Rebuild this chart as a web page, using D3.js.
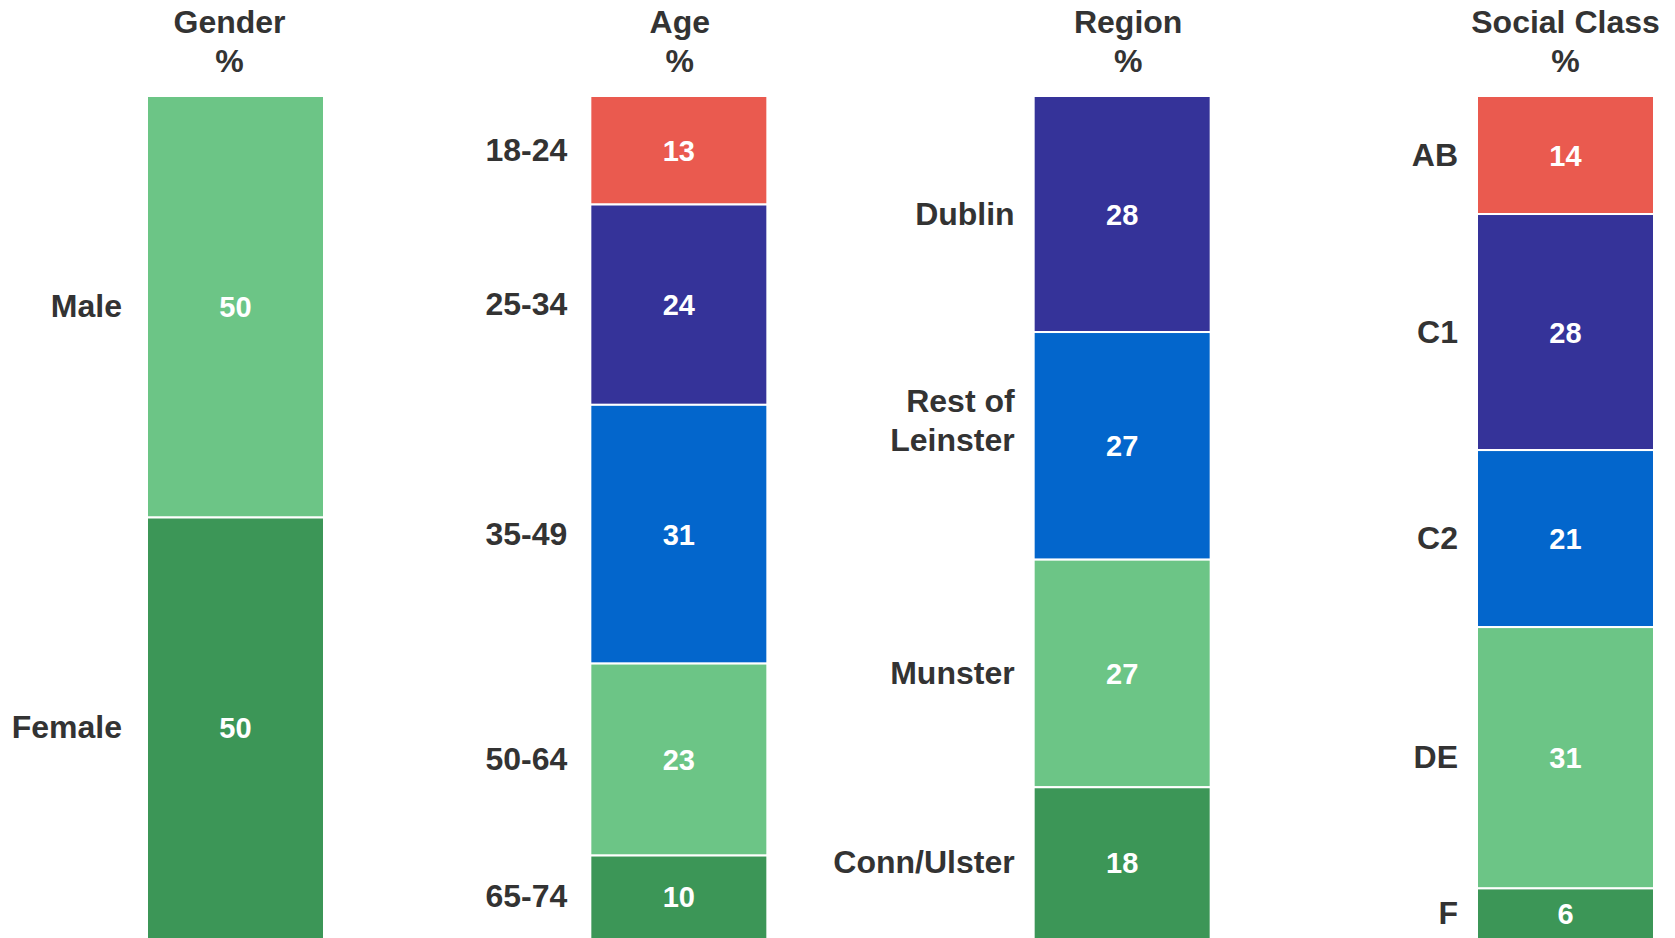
<!DOCTYPE html>
<html lang="en">
<head>
  <meta charset="UTF-8" />
  <title>Sample profile – stacked bars</title>
  <script src="https://d3js.org/d3.v7.min.js"></script>
  <style>
    body {
      margin: 0;
      background: #ffffff;
      font-family: "Liberation Sans", Arial, sans-serif;
      overflow: hidden;
    }
    svg { display: block; }
    .head { font-size: 32px; font-weight: bold; fill: #333333; }
    .cat { font-size: 32px; font-weight: bold; fill: #333333; }
    .val { font-size: 29px; font-weight: bold; fill: #ffffff; }
    .seg { stroke: #ffffff; stroke-width: 2; }
  </style>
</head>
<body>
<svg id="chart"></svg>
<script>
const panels = ["Gender", "Age", "Region", "Social Class"];

const genderLabels = ["Male", "Female"];
const genderValues = [50, 50];

const ageLabels = ["18-24", "25-34", "35-49", "50-64", "65-74"];
const ageValues = [13, 24, 31, 23, 10];

const regionLabels = ["Dublin", "Rest of\nLeinster", "Munster", "Conn/Ulster"];
const regionValues = [28, 27, 27, 18];

const classLabels = ["AB", "C1", "C2", "DE", "F"];
const classValues = [14, 28, 21, 31, 6];

// palette is used from the end, so the last segment is always dark green
const palette = ["#ea5a4f", "#353399", "#0366cc", "#6cc586", "#3c9657"];

const width = 1675, height = 938;
const barW = 177;
// small per-panel tweaks seen in the original slide
const labelGap = [25, 23, 19, 19];
const headShift = [-6, 1, 6, 0];

const svg = d3.select("#chart").attr("width", width).attr("height", height);

const x = d3.scalePoint().domain(panels).range([147, 1477]);
const y = d3.scaleLinear().domain([0, 100]).range([96, 939]);

const sets = [
  { name: "Gender", labels: genderLabels, values: genderValues },
  { name: "Age", labels: ageLabels, values: ageValues },
  { name: "Region", labels: regionLabels, values: regionValues },
  { name: "Social Class", labels: classLabels, values: classValues }
];

sets.forEach((set, pi) => {
  const g = svg.append("g").attr("transform", `translate(${x(set.name)},0)`);
  const n = set.values.length;
  const total = d3.sum(set.values);
  let acc = 0;
  // rounded figures may not add to 100, so the bar is scaled to the total
  const segs = set.values.map((v, i) => {
    const s = {
      label: set.labels[i], value: v,
      y0: acc / total * 100, y1: (acc + v) / total * 100,
      color: palette[palette.length - n + i]
    };
    acc += v;
    return s;
  });

  const head = g.append("text").attr("class", "head").attr("text-anchor", "middle");
  head.append("tspan").attr("x", barW / 2 + headShift[pi]).attr("y", 33).text(set.name);
  head.append("tspan").attr("x", barW / 2 + headShift[pi]).attr("y", 72).text("%");

  g.selectAll("rect")
    .data(segs)
    .join("rect")
    .attr("class", "seg")
    .attr("x", 0)
    .attr("width", barW)
    .attr("y", d => y(d.y0))
    .attr("height", d => y(d.y1) - y(d.y0))
    .attr("fill", d => d.color);

  g.selectAll("text.val")
    .data(segs)
    .join("text")
    .attr("class", "val")
    .attr("text-anchor", "middle")
    .attr("x", barW / 2)
    .attr("y", d => (y(d.y0) + Math.min(y(d.y1), height)) / 2 + 10.5)
    .text(d => d.value);

  const cat = g.selectAll("text.cat")
    .data(segs)
    .join("text")
    .attr("class", "cat")
    .attr("text-anchor", "end");

  cat.each(function(d) {
    const lines = d.label.split("\n");
    const mid = (y(d.y0) + Math.min(y(d.y1), height)) / 2;
    const lh = 39;
    // multi-line labels sit a little above the segment middle
    const top = lines.length > 1 ? mid - 25 - (lines.length - 1) * lh / 2 : mid;
    lines.forEach((ln, k) => {
      d3.select(this).append("tspan")
        .attr("x", -labelGap[pi])
        .attr("y", top + k * lh + 10.5)
        .text(ln);
    });
  });
});
</script>
</body>
</html>
